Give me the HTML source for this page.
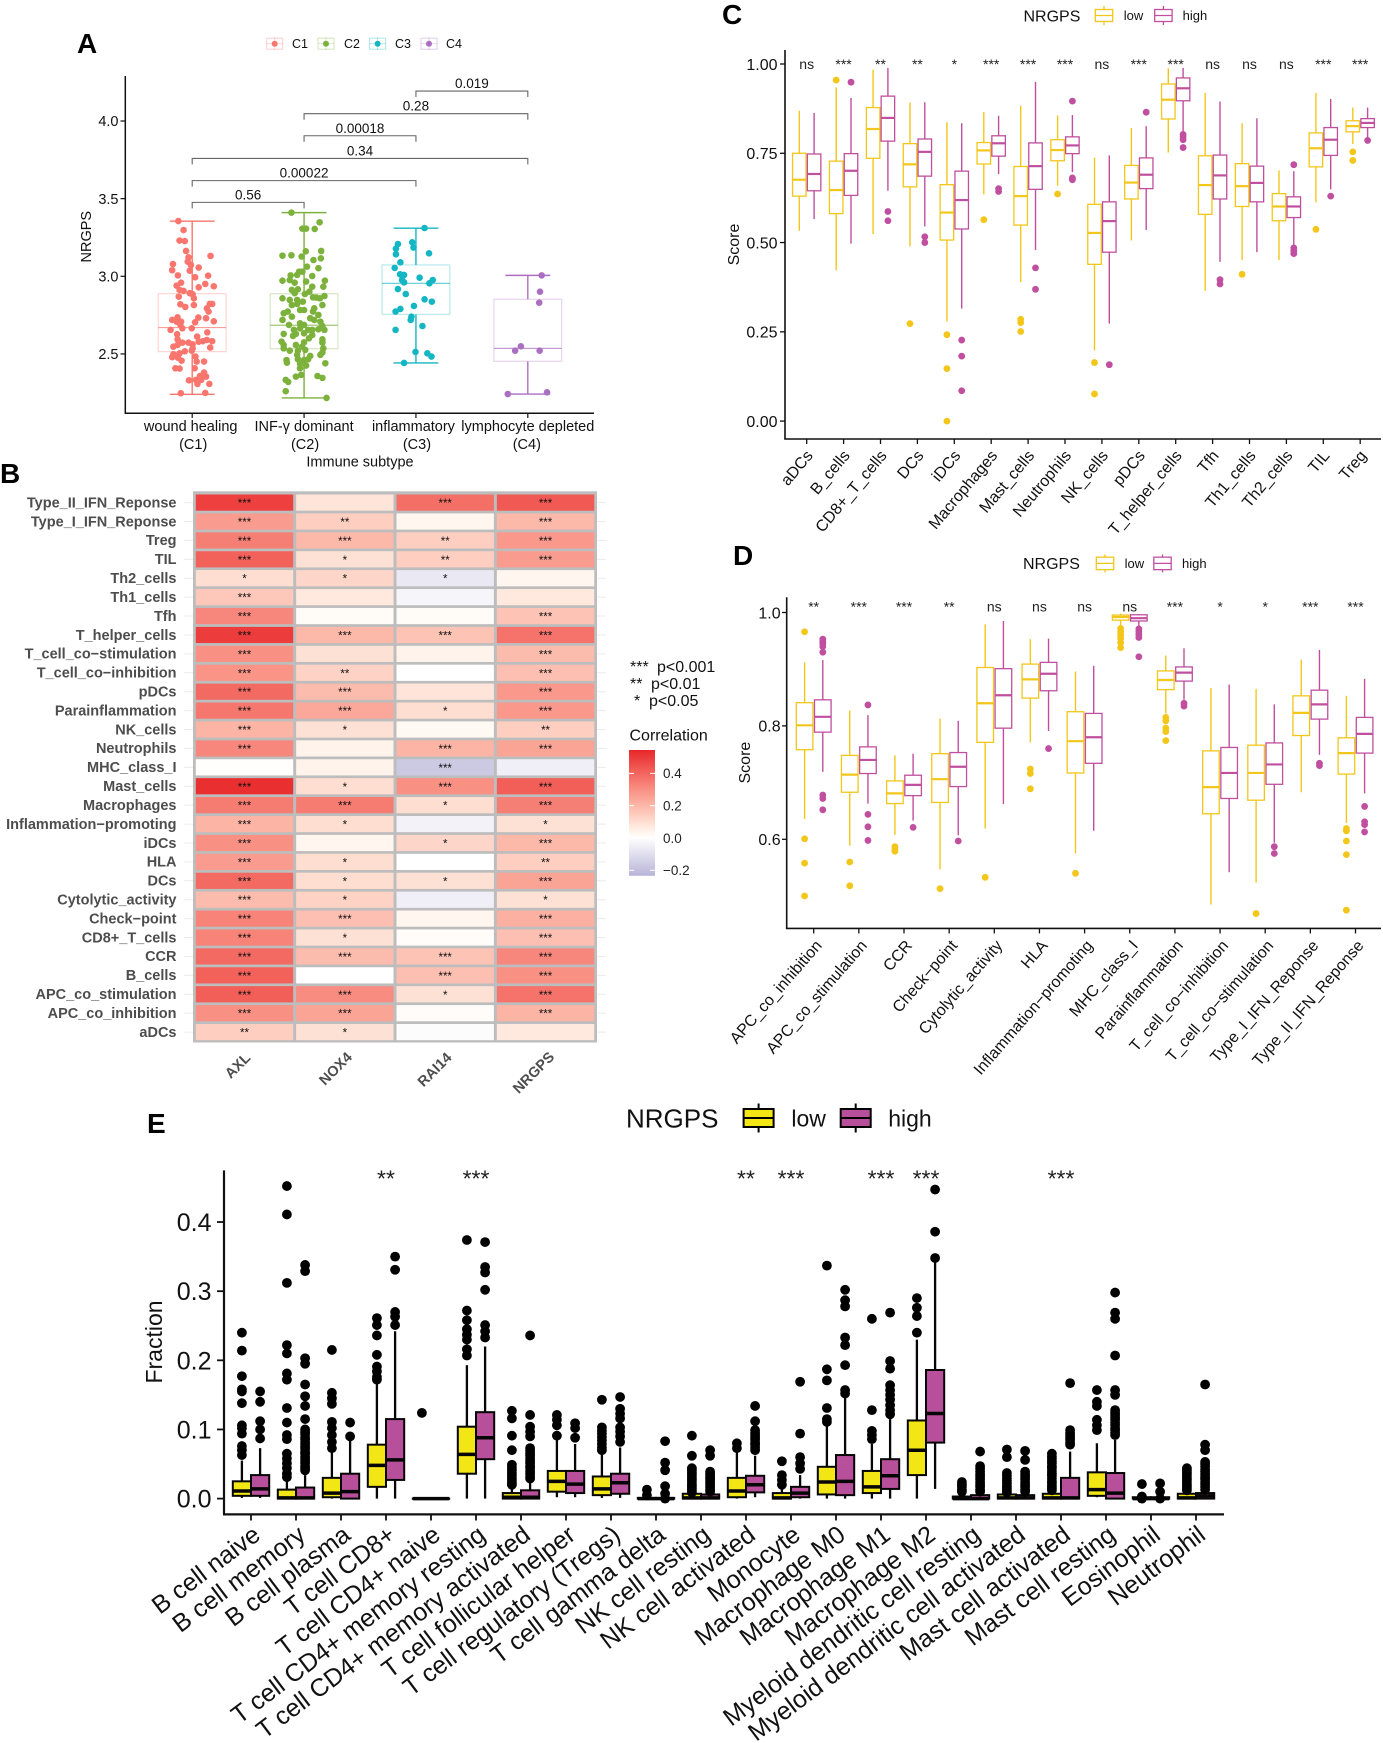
<!DOCTYPE html>
<html lang="en">
<head>
<meta charset="utf-8">
<title>NRGPS immune figure</title>
<style>
html,body{margin:0;padding:0;background:#fff;}
svg{display:block;font-family:"Liberation Sans",sans-serif;}
</style>
</head>
<body>
<svg id="figure" xmlns="http://www.w3.org/2000/svg" width="1383" height="1743" viewBox="0 0 1383 1743">
<rect x="0" y="0" width="1383" height="1743" fill="#fff"/>
<defs><linearGradient id="cbar" x1="0" y1="0" x2="0" y2="1"></linearGradient></defs>
<text x="77" y="53" font-size="28" font-weight="bold">A</text>
<text x="0" y="483" font-size="28" font-weight="bold">B</text>
<text x="722" y="24" font-size="28" font-weight="bold">C</text>
<text x="733" y="565" font-size="28" font-weight="bold">D</text>
<text x="147" y="1133" font-size="28" font-weight="bold">E</text>
<g id="panelA"></g>
<g id="panelB"></g>
<g id="panelC"></g>
<g id="panelD"></g>
<g id="panelE"></g>
</svg>
<script>
/* ---------- Panel A data ---------- */
const aCategories=[["wound healing","(C1)"],["INF-γ dominant","(C2)"],["inflammatory","(C3)"],["lymphocyte depleted","(C4)"]];
const aKeys=["C1","C2","C3","C4"];
const aColors=["#f8766d","#7cb13c","#14b6c4","#ab6fc2"];
const aTicks=[2.5,3.0,3.5,4.0];
const aStats=[[2.24,2.515,2.67,2.888,3.355],[2.217,2.534,2.685,2.888,3.41],[2.442,2.755,2.955,3.073,3.31],[2.242,2.453,2.536,2.852,3.006]];
const aBrackets=[[0,1,3.476,"0.56"],[0,2,3.616,"0.00022"],[0,3,3.759,"0.34"],[1,2,3.905,"0.00018"],[1,3,4.047,"0.28"],[2,3,4.193,"0.019"]];
const aC1Values=[3.356,3.298,3.23,3.227,3.163,3.131,3.122,3.094,3.073,3.079,3.039,3.056,3.036,3.006,3.004,2.994,2.959,2.94,2.951,2.936,2.912,2.929,2.906,2.891,2.884,2.869,2.858,2.82,2.815,2.803,2.822,2.822,2.794,2.773,2.736,2.719,2.708,2.708,2.655,2.73,2.734,2.71,2.704,2.687,2.665,2.665,2.627,2.639,2.612,2.59,2.594,2.573,2.573,2.562,2.579,2.582,2.582,2.558,2.541,2.536,2.547,2.517,2.521,2.498,2.504,2.483,2.479,2.476,2.457,2.451,2.451,2.408,2.406,2.408,2.38,2.358,2.354,2.33,2.333,2.333,2.307,2.307,2.247,2.249];
const aC1Jitter=[-.124,-.077,-.113,-.066,-.055,.164,-.033,-.04,-.011,-.172,-.179,.058,-.022,-.128,.142,.026,-.099,-.139,.117,.193,-.113,.058,-.077,-.022,.004,-.12,.015,-.106,.015,-.062,.179,.157,.131,.146,-.131,-.179,-.139,-.099,-.193,.124,.055,.193,.026,-.106,-.088,-.004,-.135,.135,.044,.131,-.131,-.088,-.033,.004,.058,.095,.179,-.131,.161,.004,-.168,-.066,-.004,-.168,-.113,.029,-.179,-.128,-.095,.04,.106,-.15,-.113,.022,.106,.069,.124,-.029,.033,.08,.047,.153,-.102,.117];
const aC2Values=[3.41,3.348,3.307,3.307,3.305,3.161,3.163,3.133,3.135,3.127,3.105,3.116,3.062,3.052,3.03,3.03,3.009,3.006,3.002,2.972,2.976,2.959,2.966,2.972,2.933,2.933,2.912,2.916,2.901,2.891,2.886,2.873,2.865,2.858,2.848,2.848,2.837,2.863,2.858,2.815,2.822,2.815,2.794,2.783,2.773,2.762,2.783,2.773,2.751,2.74,2.719,2.73,2.719,2.708,2.687,2.697,2.687,2.68,2.655,2.629,2.655,2.665,2.655,2.655,2.659,2.629,2.633,2.622,2.601,2.616,2.579,2.558,2.594,2.573,2.575,2.547,2.558,2.536,2.536,2.521,2.521,2.526,2.509,2.494,2.487,2.494,2.461,2.444,2.466,2.461,2.466,2.44,2.436,2.425,2.408,2.365,2.354,2.358,2.346,2.333,2.32,2.26,2.217];
const aC2Jitter=[-.113,.139,-.015,.018,.095,.015,.153,-.193,-.113,-.022,.084,.15,.026,.128,-.044,-.015,-.062,-.12,.073,-.193,-.128,-.084,.018,.186,.073,.172,-.109,-.055,.047,-.084,.007,.182,.08,-.193,-.128,-.062,-.011,.109,.142,-.109,-.062,.164,.091,-.036,-.146,-.182,0,.08,.128,-.109,-.193,.055,.091,.146,-.135,-.036,0,.164,.182,-.182,-.091,-.036,.036,.073,.128,-.073,0,.073,.044,-.099,-.201,-.182,.164,.164,0,-.018,-.073,-.182,.172,-.128,-.055,.011,.164,-.062,.055,.146,-.157,-.153,-.055,0,.036,.19,-.036,.018,-.036,-.026,-.073,.12,.164,-.164,-.142,-.164,.201];
const aC3Values=[3.311,3.219,3.208,3.178,3.185,3.148,3.142,3.09,3.054,3.013,3.009,2.991,2.976,2.961,2.976,2.955,2.918,2.886,2.852,2.837,2.809,2.79,2.773,2.74,2.719,2.68,2.655,2.513,2.504,2.483,2.442];
const aC3Jitter=[.077,-.033,-.161,-.179,-.022,.117,-.179,-.139,-.19,-.142,-.106,.033,-.124,-.106,.15,.12,-.161,-.091,.077,.142,-.018,-.139,-.182,-.04,-.047,.058,-.182,-.004,.102,.139,-.106];
const aC4Values=[3.006,2.901,2.83,2.549,2.521,2.521,2.253,2.242];
const aC4Jitter=[.124,.109,.102,-.062,-.113,.106,.172,-.179];

/* ---------- Panel B data ---------- */
const bRows=["Type_II_IFN_Reponse","Type_I_IFN_Reponse","Treg","TIL","Th2_cells","Th1_cells","Tfh","T_helper_cells","T_cell_co−stimulation","T_cell_co−inhibition","pDCs","Parainflammation","NK_cells","Neutrophils","MHC_class_I","Mast_cells","Macrophages","Inflammation−promoting","iDCs","HLA","DCs","Cytolytic_activity","Check−point","CD8+_T_cells","CCR","B_cells","APC_co_stimulation","APC_co_inhibition","aDCs"];
const bColumns=["AXL","NOX4","RAI14","NRGPS"];
const bLegendTicks=[0.4,0.2,0.0,-0.2];
const bPLegend=[["***","p<0.001"],["**","p<0.01"],["*","p<0.05"]];
const bCorrelation=[[.49,.08,.38,.43],[.27,.14,.03,.2],[.34,.2,.14,.28],[.41,.09,.14,.27],[.1,.12,-.07,.03],[.16,.07,-.03,.07],[.32,.015,.015,.17],[.5,.2,.17,.37],[.3,.09,.04,.19],[.29,.13,0,.18],[.39,.19,.08,.28],[.36,.24,.1,.28],[.21,.09,.02,.14],[.32,.04,.21,.25],[.005,.04,-.17,-.05],[.53,.1,.3,.42],[.35,.35,.1,.34],[.21,.1,-.04,.09],[.3,.03,.12,.2],[.27,.1,0,.14],[.39,.1,.09,.25],[.19,.13,-.05,.09],[.33,.18,.03,.22],[.33,.09,.01,.18],[.39,.19,.17,.32],[.41,0,.18,.3],[.42,.31,.09,.37],[.3,.25,.01,.21],[.14,.09,-.01,.07]];
const bStars=[["***","","***","***"],["***","**","","***"],["***","***","**","***"],["***","*","**","***"],["*","*","*",""],["***","","",""],["***","","","***"],["***","***","***","***"],["***","","","***"],["***","**","","***"],["***","***","","***"],["***","***","*","***"],["***","*","","**"],["***","","***","***"],["","","***",""],["***","*","***","***"],["***","***","*","***"],["***","*","","*"],["***","","*","***"],["***","*","","**"],["***","*","*","***"],["***","*","","*"],["***","***","","***"],["***","*","","***"],["***","***","***","***"],["***","","***","***"],["***","***","*","***"],["***","***","","***"],["**","*","",""]];

/* ---------- Panel C data ---------- */
const cCategories=["aDCs","B_cells","CD8+_T_cells","DCs","iDCs","Macrophages","Mast_cells","Neutrophils","NK_cells","pDCs","T_helper_cells","Tfh","Th1_cells","Th2_cells","TIL","Treg"];
const cSignificance=["ns","***","**","**","*","***","***","***","ns","***","***","ns","ns","ns","***","***"];
const cTicks=["0.00","0.25","0.50","0.75","1.00"];
const cLowStats=[[.533,.63,.676,.75,.869],[.422,.581,.647,.728,.934],[.524,.736,.818,.878,.984],[.489,.656,.719,.777,.892],[.279,.507,.584,.662,.837],[.635,.72,.758,.78,.866],[.389,.549,.63,.713,.883],[.659,.729,.759,.788,.856],[.198,.439,.527,.607,.738],[.506,.622,.668,.716,.821],[.752,.846,.9,.944,.988],[.365,.579,.661,.743,.919],[.451,.601,.658,.721,.834],[.451,.561,.601,.637,.702],[.613,.712,.764,.807,.919],[.776,.81,.826,.841,.878]];
const cHighStats=[[.566,.645,.692,.748,.863],[.497,.632,.701,.749,.905],[.645,.784,.849,.91,.989],[.545,.686,.754,.79,.893],[.315,.538,.619,.7,.834],[.692,.742,.778,.799,.855],[.479,.649,.714,.779,.95],[.697,.749,.772,.796,.857],[.273,.473,.56,.614,.744],[.535,.651,.69,.737,.826],[.811,.897,.932,.961,.989],[.446,.622,.688,.745,.895],[.473,.614,.667,.714,.848],[.489,.57,.601,.628,.7],[.649,.744,.788,.822,.902],[.794,.822,.835,.847,.878]];
const cLowOutliers=[[],[.955],[],[.273],[.242,.147,0],[.564],[.285,.276,.251],[.636],[.164,.076],[],[],[],[.411],[],[.537],[.754,.73]];
const cHighOutliers=[[],[.949],[.587,.561],[.516,.5],[.227,.182,.085],[.651,.643],[.429,.369],[.896,.681,.676],[.158],[.865],[.803,.796,.788,.766],[.396,.384],[],[.718,.485,.477,.469],[.63],[.786]];

/* ---------- Panel D data ---------- */
const dCategories=["APC_co_inhibition","APC_co_stimulation","CCR","Check−point","Cytolytic_activity","HLA","Inflammation−promoting","MHC_class_I","Parainflammation","T_cell_co−inhibition","T_cell_co−stimulation","Type_I_IFN_Reponse","Type_II_IFN_Reponse"];
const dSignificance=["**","***","***","**","ns","ns","ns","ns","***","*","*","***","***"];
const dTicks=["0.6","0.8","1.0"];
const dLowStats=[[.636,.758,.801,.841,.912],[.589,.683,.714,.748,.827],[.608,.663,.681,.703,.748],[.547,.665,.706,.751,.813],[.619,.771,.84,.903,.979],[.771,.849,.882,.909,.953],[.575,.717,.773,.825,.896],[.978,.9865,.992,.9955,.998],[.822,.864,.881,.897,.924],[.485,.645,.692,.756,.867],[.524,.669,.717,.766,.865],[.683,.783,.823,.853,.917],[.629,.715,.752,.779,.853]];
const dHighStats=[[.719,.789,.816,.846,.916],[.663,.716,.74,.763,.819],[.633,.677,.696,.713,.751],[.607,.693,.728,.753,.809],[.662,.796,.854,.901,.985],[.791,.862,.892,.912,.954],[.615,.734,.78,.822,.906],[.974,.985,.99,.996,.997],[.846,.879,.894,.904,.937],[.542,.672,.717,.762,.873],[.594,.697,.732,.77,.838],[.749,.812,.838,.863,.934],[.681,.752,.786,.815,.883]];
const dLowOutliers=[[.966,.601,.558,.5],[.56,.518],[.587,.583,.579],[.513],[.533],[.724,.716,.689],[.54],[.972,.966,.96,.954,.947,.938],[.815,.809,.796,.79,.774],[],[.469],[],[.619,.615,.597,.573,.475]];
const dHighOutliers=[[.953,.949,.945,.94,.93,.678,.672,.652],[.837,.644,.622,.598],[.621],[.597],[],[.76],[],[.971,.966,.961,.956,.922],[.84,.835],[],[.587,.575],[.734,.73],[.658,.631,.626,.613]];

/* ---------- Panel E data ---------- */
const eCategories=["B cell naive","B cell memory","B cell plasma","T cell CD8+","T cell CD4+ naive","T cell CD4+ memory resting","T cell CD4+ memory activated","T cell follicular helper","T cell regulatory (Tregs)","T cell gamma delta","NK cell resting","NK cell activated","Monocyte","Macrophage M0","Macrophage M1","Macrophage M2","Myeloid dendritic cell resting","Myeloid dendritic cell activated","Mast cell activated","Mast cell resting","Eosinophil","Neutrophil"];
const eSignificance=["","","","**","","***","","","","","","**","***","","***","***","","","***","","",""];
const eTicks=["0.0","0.1","0.2","0.3","0.4"];
const eLowStats=[[.001,.004,.011,.025,.055],[0,0,.001,.013,.03],[0,.002,.008,.03,.067],[0,.017,.048,.078,.169],[0,0,0,0,0],[0,.036,.064,.104,.193],[0,0,.002,.008,.02],[.002,.01,.025,.04,.085],[.001,.005,.014,.032,.067],[0,0,0,.001,.004],[0,0,.001,.007,.015],[0,.002,.011,.03,.067],[0,0,.001,.008,.02],[0,.006,.024,.046,.106],[0,.008,.017,.04,.079],[0,.034,.07,.113,.23],[0,0,0,.003,.007],[0,0,.001,.006,.012],[0,0,.001,.007,.015],[.002,.004,.013,.038,.08],[0,0,0,.002,.004],[0,0,.001,.007,.015]];
const eHighStats=[[.001,.004,.014,.034,.073],[0,0,.001,.016,.034],[0,0,.01,.036,.085],[0,.027,.056,.115,.242],[0,0,0,0,0],[0,.057,.088,.125,.22],[0,0,.002,.012,.025],[.002,.008,.021,.04,.079],[.001,.007,.023,.036,.074],[0,0,0,.001,.004],[0,0,.001,.006,.012],[.002,.009,.02,.033,.062],[0,.002,.008,.017,.034],[0,.005,.025,.063,.148],[0,.014,.033,.057,.115],[.014,.081,.123,.186,.344],[0,0,0,.005,.01],[0,0,.001,.005,.01],[0,0,.001,.03,.068],[0,0,.008,.037,.085],[0,0,0,.002,.004],[0,0,.004,.008,.016]];
const eLowOutliers=[[.24,.214,.177,.158,.155,.138,.106,.102,.094,.076,.07,.063],[.452,.411,.312,.222,.21,.181,.172,.131,.11,.092,.086,.065,.058,.051,.044,.036,.031],[.215,.153,.145,.137,.111,.102,.092,.082,.073],[.261,.251,.236,.208,.191,.184,.176,.172],[.124],[.374,.272,.258,.245,.237,.23,.216,.207],[.127,.116,.091,.07,.049,.045,.041,.037,.034,.03,.027,.023,.02],[.121,.114,.106,.091],[.143,.103,.098,.094,.089,.084,.079,.074,.07],[.013,.005],[.091,.062,.044,.041,.038,.035,.032,.029,.027,.024,.021,.018,.015,.012,.009],[.08,.073],[.054,.034,.027,.02],[.337,.187,.171,.131,.115,.111],[.26,.128,.098,.092,.086],[.29,.276,.264,.24],[.024,.02,.017,.013,.01],[.071,.06,.037,.033,.029,.026,.022,.018,.015,.012,.009],[.065,.061,.058,.054,.051,.047,.044,.04,.036,.033,.029,.025,.022,.018,.015,.012],[.157,.14,.134,.114,.106,.099],[.021,.003,0],[.044,.041,.038,.035,.032,.029,.027,.024,.021,.018,.015,.012]];
const eHighOutliers=[[.155,.14,.112,.1,.087],[.338,.329,.203,.195,.165,.148,.134,.115,.1,.096,.093,.089,.086,.082,.079,.075,.072,.068,.065,.061,.058,.054,.051,.047,.044,.041],[.11,.09],[.35,.331,.27,.263,.251],[],[.371,.335,.327,.302,.251,.242,.233],[.236,.121,.104,.097,.09,.073,.069,.065,.062,.058,.054,.051,.047,.044,.04,.036,.032,.029],[.109,.102,.088],[.147,.13,.123,.116,.103,.097,.09,.082],[.083,.052,.041,.018,.007,0],[.07,.062,.039,.036,.033,.03,.028,.025,.022,.019,.016,.013,.01],[.134,.112,.099,.095,.092,.088,.085,.081,.078,.074,.07],[.169,.094,.06,.051,.043],[.302,.287,.278,.233,.222,.193,.157,.152],[.269,.199,.188,.164,.157,.15,.143,.135,.128,.122],[.447,.386,.348],[.068,.047,.043,.039,.035,.032,.028,.024,.02,.017,.013,.01],[.069,.056,.039,.035,.032,.028,.024,.02,.017,.013,.01],[.167,.099,.095,.092,.088,.085,.081,.078],[.298,.269,.26,.207,.157,.15,.128,.124,.121,.117,.114,.11,.106,.102,.099,.095,.092],[.022,.01,0],[.165,.078,.07,.053,.05,.046,.042,.039,.035,.031,.028,.024,.021,.017,.013]];

/* ---------- helpers ---------- */
const NS="http://www.w3.org/2000/svg";
function make(parent,tag,attrs,name){
  const el=document.createElementNS(NS,tag);
  for(const k in attrs){el.setAttribute(k,attrs[k]);}
  
  
  parent.appendChild(el);
  return el;
}
function line(p,x1,y1,x2,y2,stroke,w,name,extra){
  return make(p,"line",Object.assign({x1:x1,y1:y1,x2:x2,y2:y2,stroke:stroke,"stroke-width":w},extra||{}),name);
}
function label(p,x,y,str,size,name,o){
  o=o||{};
  const a={x:x,y:y,"font-size":size,fill:o.fill||"#111","text-anchor":o.anchor||"start"};
  if(o.weight){a["font-weight"]=o.weight;}
  if(o.rot!==undefined){a.transform="rotate("+o.rot+" "+x+" "+y+")";}
  const t=make(p,"text",a,name);
  t.textContent=str;
  return t;
}
function boxGlyph(p,cx,half,s,y,color,o,name){
  const g=make(p,"g",{},name);
  const edge=o.stroke||color;
  line(g,cx,y(s[4]),cx,y(s[3]),edge,o.whisker,"whisker-upper");
  line(g,cx,y(s[1]),cx,y(s[0]),edge,o.whisker,"whisker-lower");
  make(g,"rect",{x:cx-half,y:y(s[3]),width:half*2,height:Math.max(y(s[1])-y(s[3]),.1),fill:o.boxFill?color:"#fff",stroke:edge,"stroke-width":o.box},"box");
  line(g,cx-half,y(s[2]),cx+half,y(s[2]),edge,o.median,"median");
  return g;
}
function boxPanel(p,cats,sig,lowS,highS,lowO,highO,x,y,offset,half,o){
  cats.forEach((c,i)=>{
    const xi=x(i);
    boxGlyph(p,xi-offset,half,lowS[i],y,o.lowColor,o,"low-box-"+c);
    boxGlyph(p,xi+offset,half,highS[i],y,o.highColor,o,"high-box-"+c);
    lowO[i].forEach(v=>{make(p,"circle",{cx:xi-offset,cy:y(v),r:o.r,fill:o.lowDot},"low-outlier");});
    highO[i].forEach(v=>{make(p,"circle",{cx:xi+offset,cy:y(v),r:o.r,fill:o.highDot},"high-outlier");});
    if(sig[i]){label(p,xi,o.sigY,sig[i],o.sigSize,"significance-label",{anchor:"middle",fill:"#222"});}
  });
}

/* ---------- Panel A ---------- */
(function(){
  const p=document.getElementById("panelA");
  const x=i=>192.2+i*111.87;
  const y=v=>276.3-(v-3)*155.3;
  const nudge=[-1.5,0,-2.5,0];
  line(p,125.3,76,125.3,413.3,"#111",1.5,"y-axis");
  line(p,124.6,413.3,594,413.3,"#111",1.5,"x-axis");
  aTicks.forEach(v=>{
    line(p,120.5,y(v),125.3,y(v),"#111",1.2,"y-tick");
    label(p,118.5,y(v)+5.2,v.toFixed(1),14.5,"y-tick-label",{anchor:"end"});
  });
  label(p,91,236.7,"NRGPS",14.5,"y-axis-title",{anchor:"middle",rot:-90});
  aCategories.forEach((c,i)=>{
    line(p,x(i),413.3,x(i),418,"#111",1.2,"x-tick");
    label(p,x(i)+nudge[i],431,c[0],14.5,"x-tick-label",{anchor:"middle"});
    label(p,x(i)+(i===3?-1:1),449,c[1],14.5,"x-tick-label",{anchor:"middle"});
  });
  label(p,360,466.5,"Immune subtype",14.5,"x-axis-title",{anchor:"middle"});
  aBrackets.forEach(b=>{
    const yy=y(b[2]);
    make(p,"path",{d:"M"+x(b[0])+" "+(yy+6)+"V"+yy+"H"+x(b[1])+"V"+(yy+6),fill:"none",stroke:"#666","stroke-width":1.1},"comparison-bracket");
    label(p,(x(b[0])+x(b[1]))/2,yy-3,b[3],13.5,"p-value-label",{anchor:"middle"});
  });
  const vals=[aC1Values,aC2Values,aC3Values,aC4Values];
  const jit=[aC1Jitter,aC2Jitter,aC3Jitter,aC4Jitter];
  aStats.forEach((s,i)=>{
    const c=aColors[i], cx=x(i);
    line(p,cx,y(s[4]),cx,y(s[3]),c,1.4,"whisker-upper");
    line(p,cx,y(s[1]),cx,y(s[0]),c,1.4,"whisker-lower");
    line(p,cx-22.4,y(s[4]),cx+22.4,y(s[4]),c,1.4,"whisker-cap");
    line(p,cx-22.4,y(s[0]),cx+22.4,y(s[0]),c,1.4,"whisker-cap");
    make(p,"rect",{x:cx-33.9,y:y(s[3]),width:67.8,height:y(s[1])-y(s[3]),fill:"#fff",stroke:c,"stroke-opacity":.3,"stroke-width":1.2},"box");
    line(p,cx-33.9,y(s[2]),cx+33.9,y(s[2]),c,1.2,"median",{"stroke-opacity":.7});
    vals[i].forEach((v,k)=>{
      make(p,"circle",{cx:cx+jit[i][k]*111.87,cy:y(v),r:3.3,fill:c},"data-point");
    });
  });
  const kx=[274.7,326,377.6,429], lx=[292,344,395,446];
  aKeys.forEach((k,i)=>{
    const g=make(p,"g",{},"legend-entry-"+k);
    line(g,kx[i]-8,43.7,kx[i]+8,43.7,aColors[i],.8,"legend-key-line",{"stroke-opacity":.35});
    line(g,kx[i],37,kx[i],50,aColors[i],.8,"legend-key-line",{"stroke-opacity":.35});
    make(g,"rect",{x:kx[i]-8,y:38.2,width:16,height:11,fill:"none",stroke:aColors[i],"stroke-opacity":.35,"stroke-width":1},"legend-key");
    make(g,"circle",{cx:kx[i],cy:43.7,r:3,fill:aColors[i]},"legend-dot");
    label(g,lx[i],48.2,k,12.5,"legend-label");
  });
})();

/* ---------- Panel B ---------- */
function corrColor(v){
  if(v>=0){
    const t=Math.min(v/.55,1);
    return "rgb("+Math.round(255-23*t*t)+","+Math.round(255-217*Math.pow(t,1.1))+","+Math.round(255-213*Math.pow(t,.9))+")";
  }
  const t=Math.min(-v/.236,1);
  return "rgb("+Math.round(255-71*t)+","+Math.round(255-75*t)+","+Math.round(255-39*t)+")";
}
(function(){
  const p=document.getElementById("panelB");
  const rowY=r=>502.6+r*18.91;
  const colX=c=>244.5+c*100.35;
  bRows.forEach((_,r)=>{
    line(p,184,rowY(r),606,rowY(r),"#ececec",1,"row-gridline");
  });
  make(p,"rect",{x:193,y:491.3,width:404,height:551.2,fill:"#bdbdbd"},"heatmap-background");
  bRows.forEach((name,r)=>{
    label(p,176.5,rowY(r)+4.8,name,14.5,"row-label",{anchor:"end",fill:"#4d4d4d",weight:"bold"});
    bColumns.forEach((c,k)=>{
      make(p,"rect",{x:colX(k)-48.7,y:rowY(r)-8.1,width:97.4,height:16.2,fill:corrColor(bCorrelation[r][k])},"cell-"+c+"-"+name);
      if(bStars[r][k]){label(p,colX(k),rowY(r)+4.5,bStars[r][k],11.5,"cell-significance",{anchor:"middle",fill:"#111"});}
    });
  });
  const xl=[[241,1069],[339,1072],[438,1073],[537,1076]];
  bColumns.forEach((c,k)=>{
    label(p,xl[k][0],xl[k][1],c,14.5,"column-label",{anchor:"middle",fill:"#4d4d4d",weight:"bold",rot:-45});
  });
  const py=[672,689,706], sx=[630,630,634], tx=[657,651,649];
  bPLegend.forEach((e,i)=>{
    label(p,sx[i],py[i],e[0],16,"p-legend-stars");
    label(p,tx[i],py[i],e[1],16,"p-legend-text");
  });
  label(p,629.5,740.5,"Correlation",16,"legend-title");
  const grad=document.getElementById("cbar");
  const cbMax=.547, cbMin=-.236;
  for(let i=0;i<=20;i++){
    const s=document.createElementNS(NS,"stop");
    s.setAttribute("offset",i/20);
    s.setAttribute("stop-color",corrColor(cbMax-(cbMax-cbMin)*i/20));
    grad.appendChild(s);
  }
  make(p,"rect",{x:629,y:750,width:26,height:125.8,fill:"url(#cbar)"},"colorbar");
  const cy=v=>838-v*161.5;
  bLegendTicks.forEach(v=>{
    line(p,629,cy(v),634,cy(v),"#fff",1,"colorbar-tick");
    line(p,650,cy(v),655,cy(v),"#fff",1,"colorbar-tick");
    label(p,663,cy(v)+4.8,v<0?"−"+Math.abs(v).toFixed(1):v.toFixed(1),13.5,"colorbar-label",{fill:"#222"});
  });
})();

/* ---------- Panel C ---------- */
function nrgpsLegend(p,o){
  label(p,o.titleX,o.y+o.titleSize*.36,"NRGPS",o.titleSize,"legend-title");
  [["low",o.lowX,o.lowText,o.lowColor],["high",o.highX,o.highText,o.highColor]].forEach(e=>{
    const g=make(p,"g",{},"legend-entry-"+e[0]);
    line(g,e[1],o.y-o.wh,e[1],o.y+o.wh,o.stroke||e[3],o.sw,"legend-whisker");
    make(g,"rect",{x:e[1]-o.w/2,y:o.y-o.h/2,width:o.w,height:o.h,fill:o.fill?e[3]:"#fff",stroke:o.stroke||e[3],"stroke-width":o.sw},"legend-key");
    line(g,e[1]-o.w/2,o.y,e[1]+o.w/2,o.y,o.stroke||e[3],o.sw,"legend-median");
    label(g,e[2],o.y+o.labelSize*.36,e[0],o.labelSize,"legend-label");
  });
}
(function(){
  const p=document.getElementById("panelC");
  const x=i=>806.7+i*36.9;
  const y=v=>421.1-v*357.1;
  line(p,785,50,785,439,"#111",1.6,"y-axis");
  line(p,784.2,439,1381,439,"#111",1.6,"x-axis");
  cTicks.forEach(t=>{
    line(p,780,y(+t),785,y(+t),"#111",1.3,"y-tick");
    label(p,777.5,y(+t)+5.8,t,16,"y-tick-label",{anchor:"end"});
  });
  label(p,739,244.5,"Score",16,"y-axis-title",{anchor:"middle",rot:-90});
  cCategories.forEach((c,i)=>{
    line(p,x(i),439,x(i),444,"#111",1.3,"x-tick");
    label(p,x(i)+7,456,c,16,"x-tick-label",{anchor:"end",rot:-50});
  });
  boxPanel(p,cCategories,cSignificance,cLowStats,cHighStats,cLowOutliers,cHighOutliers,x,y,7.4,6.75,{lowColor:"#f3c61a",highColor:"#c04f9f",lowDot:"#f3c61a",highDot:"#c04f9f",whisker:1.4,box:1.3,median:2.2,r:3.4,sigY:69,sigSize:14});
  nrgpsLegend(p,{titleX:1023.5,y:15.5,titleSize:16,lowX:1104,lowText:1123.8,highX:1163.4,highText:1182.6,lowColor:"#f3c61a",highColor:"#c04f9f",wh:9.6,w:17.4,h:12,sw:1.3,labelSize:13});
})();

/* ---------- Panel D ---------- */
(function(){
  const p=document.getElementById("panelD");
  const x=i=>813.7+i*45.15;
  const y=v=>612.5+(1-v)*567;
  line(p,786.7,597.2,786.7,928.4,"#111",1.6,"y-axis");
  line(p,785.9,928.4,1381,928.4,"#111",1.6,"x-axis");
  dTicks.forEach(t=>{
    line(p,782,y(+t),786.7,y(+t),"#111",1.3,"y-tick");
    label(p,780.6,y(+t)+5.8,t,16,"y-tick-label",{anchor:"end"});
  });
  label(p,750,762.6,"Score",16,"y-axis-title",{anchor:"middle",rot:-90});
  dCategories.forEach((c,i)=>{
    line(p,x(i),928.4,x(i),933.4,"#111",1.3,"x-tick");
    label(p,x(i)+9,946,c,16,"x-tick-label",{anchor:"end",rot:-49});
  });
  boxPanel(p,dCategories,dSignificance,dLowStats,dHighStats,dLowOutliers,dHighOutliers,x,y,9.1,8.3,{lowColor:"#f3c61a",highColor:"#c04f9f",lowDot:"#f3c61a",highDot:"#c04f9f",whisker:1.4,box:1.3,median:2.2,r:3.4,sigY:611.5,sigSize:14});
  nrgpsLegend(p,{titleX:1023,y:563.4,titleSize:16,lowX:1105,lowText:1124.6,highX:1162.5,highText:1182,lowColor:"#f3c61a",highColor:"#c04f9f",wh:9,w:17.4,h:12.5,sw:1.3,labelSize:13});
})();

/* ---------- Panel E ---------- */
(function(){
  const p=document.getElementById("panelE");
  const x=i=>251+i*45;
  const y=v=>1498.6-v*691.4;
  line(p,224,1170.4,224,1514.4,"#111",2.2,"y-axis");
  line(p,223,1514.4,1224,1514.4,"#111",2.2,"x-axis");
  eTicks.forEach(t=>{
    line(p,217,y(+t),224,y(+t),"#111",1.8,"y-tick");
    label(p,211.5,y(+t)+9,t,25,"y-tick-label",{anchor:"end"});
  });
  label(p,162,1342,"Fraction",23,"y-axis-title",{anchor:"middle",rot:-90});
  eCategories.forEach((c,i)=>{
    line(p,x(i),1514.4,x(i),1520.5,"#111",1.8,"x-tick");
    label(p,x(i)+11,1538,c,25,"x-tick-label",{anchor:"end",rot:-37,fill:"#111"});
  });
  boxPanel(p,eCategories,eSignificance,eLowStats,eHighStats,eLowOutliers,eHighOutliers,x,y,9.1,9.1,{lowColor:"#f2e614",highColor:"#b84f9a",lowDot:"#000",highDot:"#000",boxFill:true,whisker:2.3,box:2,median:3.5,r:4.9,sigY:1186.5,sigSize:23,stroke:"#060606"});
  nrgpsLegend(p,{titleX:626,y:1118,titleSize:26,lowX:758.6,lowText:791.4,highX:855.7,highText:888.2,lowColor:"#f2e614",highColor:"#b84f9a",wh:14.5,w:30,h:18,sw:2,labelSize:23,fill:true,stroke:"#000"});
})();
</script>
</body>
</html>
